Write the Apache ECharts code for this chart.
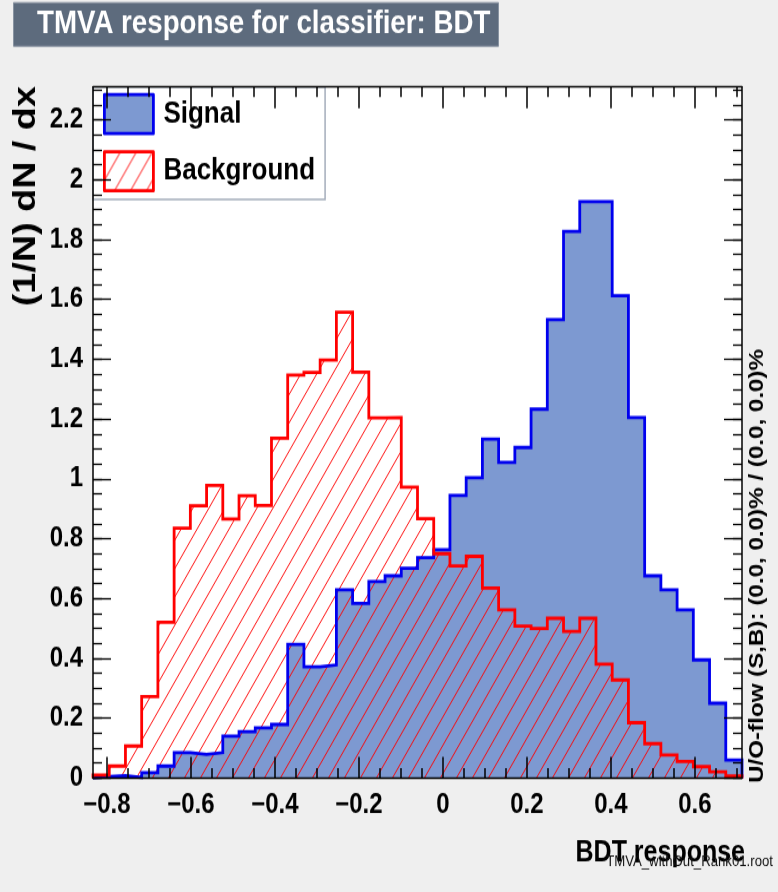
<!DOCTYPE html>
<html>
<head>
<meta charset="utf-8">
<script src="https://cdn.jsdelivr.net/npm/echarts@6/dist/echarts.min.js"></script>
<style>
html,body{margin:0;padding:0;background:#efefef;width:778px;height:892px;overflow:hidden;}
/* the reference canvas is vertically stretched; draw at 778x756 and stretch to 892 */
#c{width:778px;height:756px;transform:scaleY(1.17989);transform-origin:0 0;}
</style>
</head>
<body>
<div id="c"></div>
<script>
// ---- data ----
const xMin = -0.833;
const xMax = 0.712;
const signal = [0.005,0.008,0.002,0.018,0.040,0.085,0.079,0.085,0.140,0.155,
                0.168,0.179,0.447,0.372,0.378,0.629,0.584,0.657,0.676,0.701,
                0.737,0.763,0.945,1.004,1.133,1.055,1.105,1.233,1.532,1.827,
                1.927,1.927,1.612,1.205,0.676,0.629,0.562,0.395,0.250,0.060];
const background = [0.010,0.040,0.107,0.272,0.521,0.835,0.910,0.978,0.866,0.944,
                    0.911,1.136,1.347,1.356,1.397,1.557,1.357,1.204,1.205,0.972,
                    0.867,0.750,0.709,0.741,0.635,0.562,0.508,0.500,0.534,0.490,
                    0.534,0.381,0.328,0.185,0.115,0.077,0.055,0.038,0.021,0.007];
const xTickLabels = [-0.8,-0.6,-0.4,-0.2,0,0.2,0.4,0.6];
const yTickLabels = [0,0.2,0.4,0.6,0.8,1,1.2,1.4,1.6,1.8,2,2.2];
const yMin = 0;
const yMax = 2.31;
const seriesNames = ['Signal','Background'];

// ---- helpers ----
const FONT = "'Liberation Sans',Arial,Helvetica,sans-serif";

function minorValues(from, to, step){
  const out = [];
  const n = Math.round((to - from) / step);
  for (let i = 0; i <= n; i++) out.push(Math.round((from + i * step) * 1000) / 1000);
  return out;
}
const xMinor = minorValues(-0.8, 0.7, 0.05);
const yMinor = minorValues(0, 2.3, 0.05);

function histData(vals){
  const w = (xMax - xMin) / vals.length;
  const d = [[xMin, 0]];
  vals.forEach((v, i) => d.push([xMin + i * w, v]));
  d.push([xMax, vals[vals.length - 1]]);
  d.push([xMax, 0]);
  return d;
}

function hatchCanvas(){
  const w = 16, h = 24;
  const c = document.createElement('canvas');
  c.width = w; c.height = h;
  const g = c.getContext('2d');
  g.strokeStyle = 'rgba(255,0,0,0.95)';
  g.lineWidth = 1;
  for (const off of [-w, 0, w]) {
    g.beginPath();
    g.moveTo(off - w, 2 * h);
    g.lineTo(off + 2 * w, -h);
    g.stroke();
  }
  return c;
}
const hatch = {image: hatchCanvas(), repeat: 'repeat'};

const fmt = v => (v < 0 ? '\u2212' + String(Math.abs(v)) : String(v));

const gridRect = {left: 93, right: 36, top: 73.7, bottom: 96.6};

function xAx(grid, pos, major){
  return {
    type: 'value', gridIndex: grid, position: pos, min: xMin, max: xMax, z: 8,
    axisLine: {show: major, onZero: false, lineStyle: {color: '#000', width: 1.3}},
    axisTick: {show: true, inside: true, length: major ? 18 : 8.5,
               customValues: major ? xTickLabels : xMinor,
               lineStyle: {color: '#000', width: 1.5}},
    axisLabel: (major && pos === 'bottom') ? {
      show: true, customValues: xTickLabels, margin: 11, color: '#000',
      fontSize: 24, fontWeight: 'bold', fontFamily: FONT, formatter: fmt
    } : {show: false},
    splitLine: {show: false}, minorTick: {show: false}
  };
}
function yAx(grid, pos, major){
  return {
    type: 'value', gridIndex: grid, position: pos, min: yMin, max: yMax, z: 8,
    axisLine: {show: major, onZero: false, lineStyle: {color: '#000', width: 1.5}},
    axisTick: {show: true, inside: true, length: major ? 18 : 9,
               customValues: major ? yTickLabels : yMinor,
               lineStyle: {color: '#000', width: 1.3}},
    axisLabel: (major && pos === 'left') ? {
      show: true, customValues: yTickLabels, margin: 10, color: '#000',
      fontSize: 24, fontWeight: 'bold', fontFamily: FONT, formatter: fmt
    } : {show: false},
    splitLine: {show: false}, minorTick: {show: false}
  };
}

const chart = echarts.init(document.getElementById('c'), null, {renderer: 'canvas'});
chart.setOption({
  animation: false,
  backgroundColor: '#efefef',
  title: {
    text: 'TMVA response for classifier: BDT',
    left: 13, top: 1.7,
    padding: [5, 8, 5, 24],
    backgroundColor: '#5d6b7d',
    borderColor: '#8893a1', borderWidth: 1,
    textStyle: {color: '#fff', fontSize: 27.7, fontWeight: 'bold', fontFamily: FONT}
  },
  grid: [
    Object.assign({show: true, backgroundColor: '#fff', borderWidth: 0, containLabel: false, outerBoundsMode: 'none'}, gridRect),
    Object.assign({show: false, containLabel: false, outerBoundsMode: 'none'}, gridRect)
  ],
  xAxis: [xAx(0, 'bottom', true), xAx(0, 'top', true), xAx(1, 'bottom', false), xAx(1, 'top', false)],
  yAxis: [yAx(0, 'left', true), yAx(0, 'right', true), yAx(1, 'left', false), yAx(1, 'right', false)],
  legend: {
    orient: 'vertical', left: 93, top: 73.7,
    padding: [5.1, 10, 5.9, 10], itemGap: 12.7, itemWidth: 49, itemHeight: 33,
    backgroundColor: '#fff', borderColor: '#a4adbb', borderWidth: 1.5,
    icon: 'rect', selectedMode: false, z: 4,
    textStyle: {fontSize: 26, fontWeight: 'bold', fontFamily: FONT, color: '#000', padding: [0, 0, 0, 5]},
    data: [
      {name: seriesNames[0], itemStyle: {color: '#7d99d1', borderColor: '#0000ee', borderWidth: 2.8, borderJoin: 'round'}},
      {name: seriesNames[1], itemStyle: {color: hatch, borderColor: '#ff0000', borderWidth: 2.8, borderJoin: 'round'}}
    ]
  },
  series: [
    {
      name: seriesNames[0], type: 'line', xAxisIndex: 0, yAxisIndex: 0,
      step: 'end', symbol: 'none', showSymbol: false, clip: true,
      data: histData(signal),
      lineStyle: {color: '#0000ee', width: 2.8, join: 'miter'},
      itemStyle: {color: '#7d99d1'},
      areaStyle: {color: '#7d99d1', opacity: 1, origin: 0},
      emphasis: {disabled: true}
    },
    {
      name: seriesNames[1], type: 'line', xAxisIndex: 0, yAxisIndex: 0,
      step: 'end', symbol: 'none', showSymbol: false, clip: true,
      data: histData(background),
      lineStyle: {color: '#ff0000', width: 2.8, join: 'miter'},
      itemStyle: {color: '#ff0000'},
      areaStyle: {color: hatch, opacity: 1, origin: 0},
      emphasis: {disabled: true}
    }
  ],
  graphic: [
    {type: 'text', x: 26, y: 72.9, rotation: Math.PI / 2, z: 10,
     style: {text: '(1/N) dN / dx', fontSize: 32, fontWeight: 'bold', fontFamily: FONT,
             fill: '#000', align: 'right', verticalAlign: 'middle'}},
    {type: 'text', x: 757, y: 663.6, rotation: Math.PI / 2, z: 10,
     style: {text: 'U/O-flow (S,B): (0.0, 0.0)% / (0.0, 0.0)%', fontSize: 20.5, fontWeight: 'bold',
             fontFamily: FONT, fill: '#000', align: 'left', verticalAlign: 'middle'}},
    {type: 'text', x: 745, y: 723.3, z: 10,
     style: {text: 'BDT response', fontSize: 25, fontWeight: 'bold', fontFamily: FONT,
             fill: '#000', align: 'right', verticalAlign: 'middle'}},
    {type: 'text', x: 773, y: 730.5, z: 11,
     style: {text: 'TMVA_withOut_Rank01.root', fontSize: 13.2, fontFamily: FONT,
             fill: '#111', align: 'right', verticalAlign: 'middle'}}
  ]
});
</script>
</body>
</html>
